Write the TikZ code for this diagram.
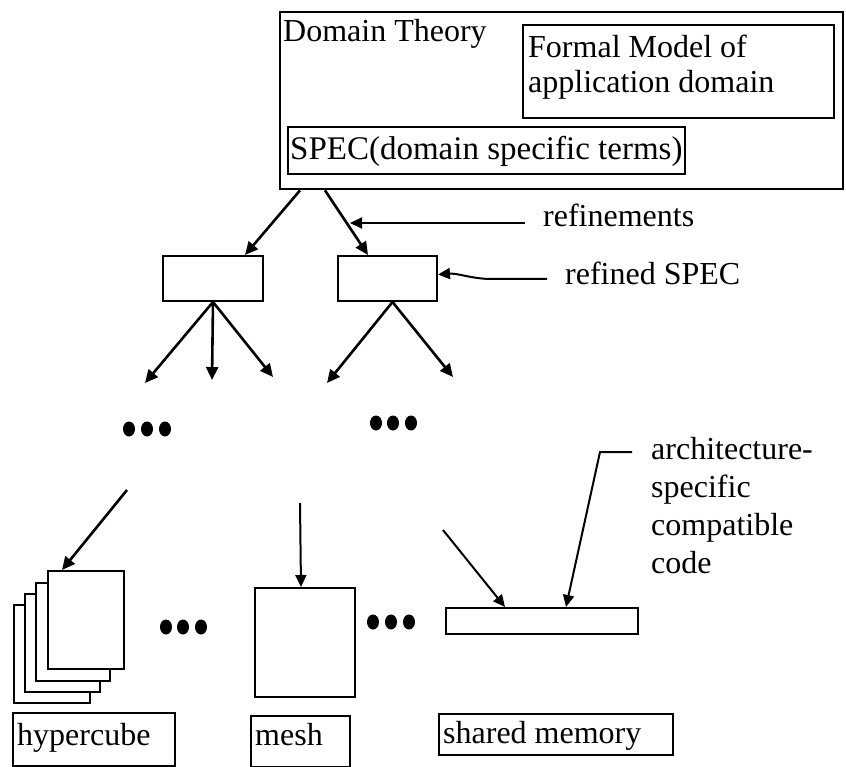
\documentclass[tikz,border=0pt]{standalone}
\usepackage{fontspec}
\setmainfont{Liberation Serif}
\usetikzlibrary{arrows.meta}
\begin{document}
\begin{tikzpicture}[x=1pt,y=-1pt,
  box/.style={draw,line width=2pt,fill=white,inner sep=0pt,anchor=north west},
  arr/.style={line width=2.6pt,-{Triangle[length=13pt,width=12pt]}},
  thin arr/.style={line width=2pt,-{Triangle[length=12pt,width=11pt]}},
  txt/.style={anchor=base west,inner sep=0pt,font=\fontsize{32}{36}\selectfont},
  mtxt/.style={anchor=north west,inner sep=0pt,align=left},
  dotfill/.style={fill=black}
]
\useasboundingbox (0,0) rectangle (846,767);
% top domain theory box
\node[box,line width=2.4pt,minimum width=563pt,minimum height=177pt] (top) at (279,11) {};
\node[box,minimum width=311pt,minimum height=93pt] (formal) at (522,24) {};
\node[box,minimum width=397pt,minimum height=47pt] (spec) at (287,126) {};
\node[txt] (dt) at (283,42) {Domain Theory};
\node[mtxt,font=\fontsize{32}{35}\selectfont] (fm) at (528,35) {Formal Model of\\application domain};
\node[txt,font=\fontsize{33}{36}\selectfont] (spect) at (290,160) {SPEC(domain specific terms)};
% refined boxes
\node[box,minimum width=100pt,minimum height=45pt] (r1) at (162,255) {};
\node[box,minimum width=99pt,minimum height=45pt] (r2) at (337,255) {};
\draw[arr] ([xshift=21]top.south west) -- ([xshift=83]r1.north west);
\draw[arr] ([xshift=46]top.south west) -- ([xshift=31]r2.north west);
% labels right
\node[txt] (refl) at (543,227) {refinements};
\node[txt] (rspl) at (565,285) {refined SPEC};
\coordinate (reftail) at (525,223);
\coordinate (refhit) at (350,223);
\draw[thin arr] (reftail) -- (refhit);
\coordinate (spectail) at (547,279);
\draw[thin arr] (spectail) -- (492,279) .. controls (472,279) and (458,273) .. ([yshift=4]r2.east);
% arrows from refined boxes
\coordinate (e1) at (145,383);
\coordinate (e2) at (212,380);
\coordinate (e3) at (273,377);
\coordinate (e4) at (327,383);
\coordinate (e5) at (453,377);
\draw[arr] (r1.south) -- (e1);
\draw[arr] (r1.south) -- (e2);
\draw[arr] (r1.south) -- (e3);
\draw[arr] ([xshift=5]r2.south) -- (e4);
\draw[arr] ([xshift=5]r2.south) -- (e5);
% dots
\foreach \x in {129,147,165} \fill[dotfill] (\x,429) ellipse [x radius=6, y radius=7.5];
\foreach \x in {376,393,411} \fill[dotfill] (\x,423) ellipse [x radius=6, y radius=7.5];
\foreach \x in {166,183,201} \fill[dotfill] (\x,627) ellipse [x radius=6, y radius=7.5];
\foreach \x in {373,391,409} \fill[dotfill] (\x,622) ellipse [x radius=6, y radius=7.5];
% hypercube stack
\node[box,minimum width=76pt,minimum height=98pt] (p4) at (13,604) {};
\node[box,minimum width=75pt,minimum height=98pt] (p3) at (24,593) {};
\node[box,minimum width=74pt,minimum height=98pt] (p2) at (35,582) {};
\node[box,line width=2.4pt,minimum width=76pt,minimum height=98pt] (front) at (47,570) {};
\coordinate (hctail) at (127,490);
\draw[arr] (hctail) -- ([xshift=15]front.north west);
% mesh
\node[box,minimum width=100pt,minimum height=109pt] (mesh) at (254,587) {};
\coordinate (meshtail) at (300,503);
\draw[thin arr] (meshtail) -- ([xshift=-4]mesh.north);
% shared memory bar
\node[box,minimum width=192pt,minimum height=26pt] (bar) at (445,607) {};
\coordinate (smtail) at (443,530);
\draw[thin arr] (smtail) -- ([xshift=60]bar.north west);
\coordinate (archtail) at (632,452);
\draw[thin arr] (archtail) -- (600,452) -- ([xshift=121]bar.north west);
\node[mtxt,font=\fontsize{32}{38}\selectfont] (arch) at (651,437) {architecture-\\specific\\compatible\\code};
% bottom labels
\node[box,minimum width=162pt,minimum height=53pt] (hcl) at (12,712) {};
\node[txt] (hct) at (17,745) {hypercube};
\node[box,minimum width=99pt,minimum height=51pt] (ml) at (250,715) {};
\node[txt] (mt) at (255,745) {mesh};
\node[box,minimum width=234pt,minimum height=41pt] (sml) at (438,713) {};
\node[txt] (smt) at (443,743) {shared memory};
\end{tikzpicture}
\end{document}
